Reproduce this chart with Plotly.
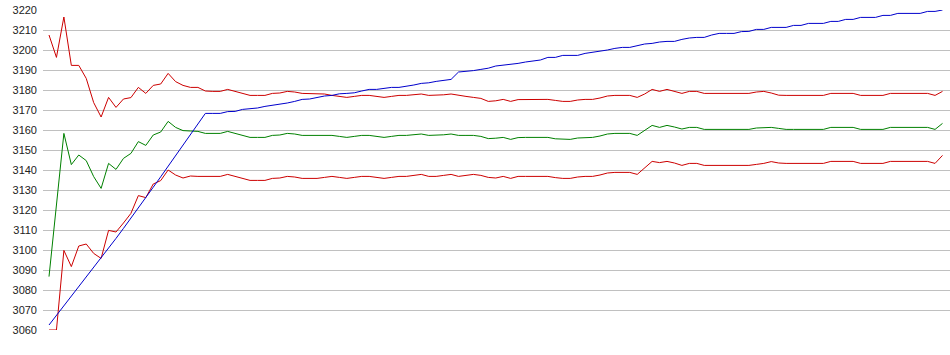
import plotly.graph_objects as go

# ---- data ----
upper = [3207.5, 3196.3, 3216.5, 3192.3, 3192.3, 3185.8, 3173.7, 3166.5, 3176.3, 3171.3,
         3175.5, 3176.2, 3181.3, 3178.3, 3182.3, 3183.0, 3188.3, 3184.2, 3182.3, 3181.3,
         3181.3, 3179.5, 3179.3, 3179.3, 3180.3, 3179.3, 3178.0, 3177.3, 3177.3, 3177.3,
         3178.3, 3178.5, 3179.3, 3179.0, 3178.3, 3178.3, 3178.3, 3178.0, 3177.3, 3176.8,
         3176.3, 3176.8, 3177.3, 3177.3, 3176.8, 3176.3, 3176.8, 3177.3, 3177.3, 3177.6,
         3178.0, 3177.3, 3177.3, 3177.6, 3178.0, 3177.3, 3176.8, 3176.3, 3175.8, 3174.3,
         3174.6, 3175.3, 3174.3, 3175.2, 3175.3, 3175.3, 3175.3, 3175.3, 3174.8, 3174.3,
         3174.3, 3175.0, 3175.3, 3175.3, 3176.0, 3177.0, 3177.3, 3177.3, 3177.3, 3176.3,
         3178.0, 3180.3, 3179.3, 3180.3, 3179.3, 3178.3, 3179.3, 3179.3, 3178.3, 3178.3,
         3178.3, 3178.3, 3178.3, 3178.3, 3178.3, 3179.0, 3179.3, 3178.5, 3177.4, 3177.3,
         3177.3, 3177.3, 3177.3, 3177.3, 3177.3, 3178.3, 3178.3, 3178.3, 3178.3, 3177.3,
         3177.3, 3177.3, 3177.3, 3178.3, 3178.3, 3178.3, 3178.3, 3178.3, 3178.3, 3177.3,
         3179.3]

middle = [3086.7, 3122.5, 3158.3, 3142.7, 3147.5, 3144.7, 3136.7, 3130.8, 3143.3, 3140.3,
          3145.8, 3148.3, 3154.2, 3152.3, 3157.5, 3159.0, 3164.3, 3161.3, 3159.7, 3159.5,
          3159.3, 3158.3, 3158.3, 3158.3, 3159.3, 3158.3, 3157.0, 3156.3, 3156.3, 3156.3,
          3157.3, 3157.5, 3158.3, 3158.0, 3157.3, 3157.3, 3157.3, 3157.3, 3157.3, 3156.8,
          3156.3, 3156.8, 3157.3, 3157.3, 3156.8, 3156.3, 3156.8, 3157.3, 3157.3, 3157.6,
          3158.0, 3157.3, 3157.3, 3157.6, 3158.0, 3157.3, 3157.3, 3157.3, 3156.8, 3155.7,
          3155.9, 3156.3, 3155.3, 3156.2, 3156.3, 3156.3, 3156.3, 3156.3, 3155.6, 3155.3,
          3155.3, 3156.0, 3156.3, 3156.3, 3157.0, 3158.0, 3158.3, 3158.3, 3158.3, 3157.3,
          3159.6, 3162.3, 3161.3, 3162.3, 3161.5, 3160.5, 3161.3, 3161.3, 3160.3, 3160.3,
          3160.3, 3160.3, 3160.3, 3160.3, 3160.3, 3161.0, 3161.3, 3161.3, 3160.8, 3160.3,
          3160.3, 3160.3, 3160.3, 3160.3, 3160.3, 3161.3, 3161.3, 3161.3, 3161.3, 3160.3,
          3160.3, 3160.3, 3160.3, 3161.3, 3161.3, 3161.3, 3161.3, 3161.3, 3161.3, 3160.3,
          3163.3]

lower = [3060.0, 3060.0, 3099.8, 3091.7, 3102.0, 3103.0, 3098.3, 3095.8, 3109.8, 3109.0,
         3113.5, 3118.3, 3127.2, 3126.2, 3133.0, 3134.7, 3140.0, 3137.5, 3136.0, 3137.0,
         3136.8, 3136.8, 3136.8, 3136.8, 3137.8, 3136.8, 3135.8, 3134.8, 3134.8, 3134.8,
         3135.8, 3136.0, 3136.8, 3136.5, 3135.8, 3135.8, 3135.8, 3136.3, 3136.8, 3136.3,
         3135.8, 3136.3, 3136.8, 3136.8, 3136.3, 3135.8, 3136.3, 3136.8, 3136.8, 3137.3,
         3137.8, 3136.8, 3136.8, 3137.3, 3137.8, 3136.8, 3137.3, 3137.8, 3137.3, 3136.3,
         3136.0, 3136.8, 3135.8, 3136.8, 3136.8, 3136.8, 3136.8, 3136.8, 3136.2, 3135.8,
         3135.8, 3136.5, 3136.8, 3136.8, 3137.5, 3138.5, 3138.8, 3138.8, 3138.8, 3137.8,
         3141.0, 3144.3, 3143.7, 3144.3, 3143.5, 3142.3, 3143.3, 3143.3, 3142.3, 3142.3,
         3142.3, 3142.3, 3142.3, 3142.3, 3142.3, 3142.8, 3143.3, 3144.2, 3143.5, 3143.3,
         3143.3, 3143.3, 3143.3, 3143.3, 3143.3, 3144.3, 3144.3, 3144.3, 3144.3, 3143.3,
         3143.3, 3143.3, 3143.3, 3144.3, 3144.3, 3144.3, 3144.3, 3144.3, 3144.3, 3143.3,
         3147.3]

trend = [3062.5, 3067.3, 3072.0, 3076.8, 3081.5, 3086.3, 3091.0, 3095.8, 3100.8, 3105.8,
         3110.8, 3115.8, 3121.0, 3126.2, 3131.4, 3136.6, 3141.9, 3147.2, 3152.5, 3157.8,
         3163.1, 3168.3, 3168.3, 3168.3, 3169.2, 3169.3, 3170.3, 3170.5, 3171.0, 3171.8,
         3172.3, 3173.0, 3173.5, 3174.3, 3175.3, 3175.5, 3176.2, 3177.0, 3177.3, 3178.1,
         3178.3, 3178.6, 3179.5, 3180.3, 3180.3, 3180.8, 3181.3, 3181.3, 3181.8, 3182.5,
         3183.3, 3183.6, 3184.3, 3184.8, 3185.3, 3189.0, 3189.3, 3189.7, 3190.3, 3190.9,
         3192.0, 3192.4, 3193.0, 3193.3, 3194.0, 3194.4, 3195.0, 3196.3, 3196.3, 3197.3,
         3197.3, 3197.3, 3198.3, 3198.8, 3199.3, 3200.0, 3200.8, 3201.3, 3201.3, 3202.3,
         3203.0, 3203.3, 3204.0, 3204.3, 3204.3, 3205.3, 3206.0, 3206.3, 3206.3, 3207.5,
         3208.3, 3208.3, 3208.3, 3209.2, 3209.3, 3210.3, 3210.3, 3211.3, 3211.3, 3211.3,
         3212.3, 3212.3, 3213.3, 3213.3, 3213.3, 3214.3, 3214.3, 3215.3, 3215.3, 3216.3,
         3216.3, 3216.3, 3217.3, 3217.3, 3218.3, 3218.3, 3218.3, 3218.3, 3219.3, 3219.3,
         3220.0]

x = list(range(len(upper)))
y_ticks = list(range(3060, 3221, 10))

RED = "#cc0000"
GREEN = "#008000"
BLUE = "#0000cc"

fig = go.Figure()
fig.add_trace(go.Scatter(x=x, y=lower, mode="lines", line=dict(color=RED, width=1), name="lower"))
fig.add_trace(go.Scatter(x=x, y=middle, mode="lines", line=dict(color=GREEN, width=1), name="middle"))
fig.add_trace(go.Scatter(x=x, y=upper, mode="lines", line=dict(color=RED, width=1), name="upper"))
fig.add_trace(go.Scatter(x=x, y=trend, mode="lines", line=dict(color=BLUE, width=1), name="trend"))

fig.update_layout(
    width=950, height=355,
    margin=dict(l=43, r=0, t=10, b=25),
    paper_bgcolor="white", plot_bgcolor="white",
    showlegend=False,
    hovermode=False,
    font=dict(family="Liberation Sans, Arial, sans-serif", size=11, color="#222222"),
)
fig.update_xaxes(range=[-0.806, 121.007], showgrid=False, zeroline=False,
                 showticklabels=False, showline=False, ticks="")
fig.update_yaxes(range=[3060, 3220], tickvals=y_ticks, ticktext=[str(v) for v in y_ticks],
                 showgrid=True, gridcolor="#c0c0c0", gridwidth=1, zeroline=False,
                 showline=False, ticks="", ticklabelstandoff=5)

fig.write_html("out.html")
